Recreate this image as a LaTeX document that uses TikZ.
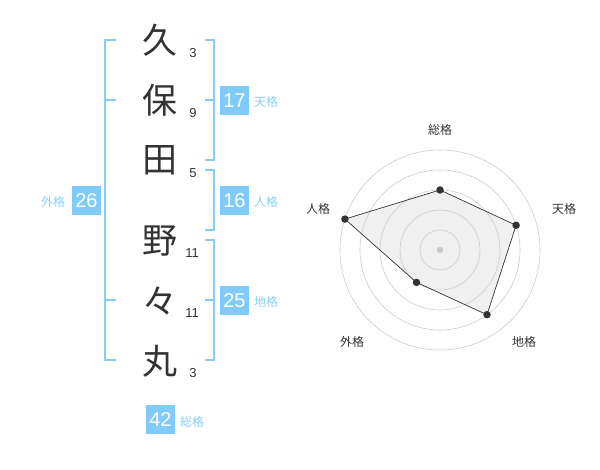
\documentclass[tikz,border=0pt]{standalone}
\usepackage{fontspec}
\setmainfont{Liberation Sans}
\newfontfamily\cjk{Noto Sans CJK JP}
\definecolor{bbl}{HTML}{88CDF5}
\definecolor{boxbl}{HTML}{80CBFA}
\definecolor{lblbl}{HTML}{8ACFF5}
\definecolor{dk}{HTML}{333333}
\definecolor{gr}{HTML}{CCCCCC}
\definecolor{fl}{HTML}{F0F0F0}
\begin{document}
\begin{tikzpicture}[x=1pt,y=-1pt,
  kanji/.style={font=\cjk\fontsize{35}{35}\selectfont, text=dk, inner sep=0pt},
  strk/.style={font=\fontsize{13}{13}\selectfont, text=dk, inner sep=0pt},
  brk/.style={draw=bbl, line width=2pt},
  numbox/.style={fill=boxbl, text=white, minimum width=29pt, minimum height=29pt, inner sep=0pt, font=\fontsize{20}{20}\selectfont},
  kaku/.style={font=\cjk\fontsize{12}{12}\selectfont, text=lblbl, inner sep=0pt},
  rlab/.style={font=\cjk\fontsize{12}{12}\selectfont, text=dk, inner sep=0pt},
  ring/.style={draw=gr, line width=0.6pt},
  pt/.style={circle, fill=dk, inner sep=0pt, minimum size=7.5pt}
]
\useasboundingbox (0,0) rectangle (600,470);
% characters
\node[kanji] (c1) at (160,40) {久};
\node[kanji] (c2) at (160,100) {保};
\node[kanji] (c3) at (160,160) {田};
\node[kanji] (c4) at (160,241) {野};
\node[kanji] (c5) at (160,301) {々};
\node[kanji] (c6) at (160,361) {丸};
\node[strk] (s1) at (193,53) {3};
\node[strk] (s2) at (193,113) {9};
\node[strk] (s3) at (193,173) {5};
\node[strk] (s4) at (192,253) {11};
\node[strk] (s5) at (192,313) {11};
\node[strk] (s6) at (193,373) {3};
% brackets
\draw[brk] (116,40) -- (105,40) -- (105,360) -- (116,360);
\draw[brk] (105,100) -- (116,100);
\draw[brk] (105,300) -- (116,300);
\draw[brk] (205,40) -- (214,40) -- (214,160) -- (205,160);
\draw[brk] (205,100) -- (214,100);
\draw[brk] (205,170) -- (214,170) -- (214,230) -- (205,230);
\draw[brk] (205,240) -- (214,240) -- (214,360) -- (205,360);
\draw[brk] (205,300) -- (214,300);
% boxes
\node[numbox] (b17) at (234.5,100.5) {17};
\node[kaku] (l17) at (266,102) {天格};
\node[numbox] (b16) at (234.5,200.5) {16};
\node[kaku] (l16) at (266,202) {人格};
\node[numbox] (b25) at (234.5,300.5) {25};
\node[kaku] (l25) at (266,302) {地格};
\node[numbox] (b26) at (86.5,200.5) {26};
\node[kaku] (l26) at (53,202) {外格};
\node[numbox] (b42) at (160.5,419.5) {42};
\node[kaku] (l42) at (192,422) {総格};
% radar
\coordinate (O) at (440,250);
\coordinate (pA) at (440,190);
\coordinate (pB) at (516.1,225.3);
\coordinate (pC) at (487.0,314.7);
\coordinate (pD) at (416.5,282.4);
\coordinate (pE) at (344.9,219.1);
\fill[fl] (pA) -- (pB) -- (pC) -- (pD) -- (pE) -- cycle;
\foreach \r in {20,40,60,80,100} \draw[ring] (O) circle[radius=\r];
\fill[gr] (O) circle[radius=3.3];
\draw[dk, line width=0.7pt] (pA) -- (pB) -- (pC) -- (pD) -- (pE) -- cycle;
\foreach \p in {pA,pB,pC,pD,pE} \node[pt] at (\p) {};
\node[rlab] (rA) at (440,130) {総格};
\node[rlab] (rB) at (564,209) {天格};
\node[rlab] (rC) at (524,342) {地格};
\node[rlab] (rD) at (352,342) {外格};
\node[rlab] (rE) at (318,209) {人格};
\end{tikzpicture}
\end{document}
